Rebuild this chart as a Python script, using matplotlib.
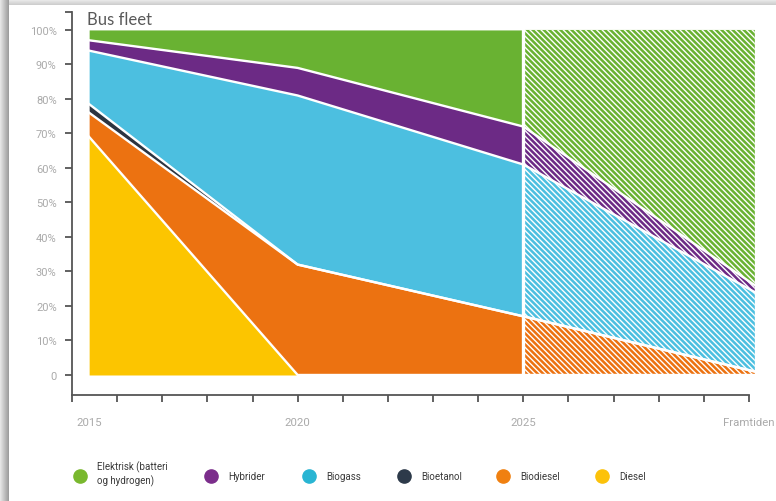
import numpy as np
import matplotlib.pyplot as plt
from matplotlib.lines import Line2D

# periods on the x axis and stacked shares (percent), bottom -> top
periods = ['2015', '2020', '2025', 'Framtiden']
series = ['Diesel', 'Biodiesel', 'Bioetanol', 'Biogass', 'Hybrider', 'Elektrisk']
diesel = [69, 0, 0, 0]
biodiesel = [7, 32, 17, 1]
bioetanol = [2.5, 0, 0, 0]
biogass = [15.5, 49, 44, 23]
hybrider = [3, 8, 11, 2]
elektrisk = [3, 11, 28, 74]

legend_labels = ['Elektrisk (batteri\nog hydrogen)', 'Hybrider', 'Biogass',
                 'Bioetanol', 'Biodiesel', 'Diesel']
colors = {'Elektrisk': '#69b232', 'Hybrider': '#6c2a85', 'Biogass': '#4cbfe0',
          'Bioetanol': '#2c3440', 'Biodiesel': '#ec7211', 'Diesel': '#fcc500'}
legend_colors = ['#79b82e', '#7b2d8b', '#29b5d3', '#2d3a4a', '#f08010', '#fcc20a']

xpos = np.array([0.38, 5, 10, 15.13])
plt.rcParams['hatch.linewidth'] = 1.0

fig = plt.figure(figsize=(7.76, 5.02), dpi=100)

# screenshot shadow on the left and top edge
H, W = 502, 776
img = np.ones((H, W, 3))
for c in range(9):
    img[:, c, :] = 0.9 - 0.28 * c / 8
for r in range(6):
    img[r, 9:, :] = np.minimum(img[r, 9:, :], 0.93 - 0.12 * r / 5)
bg = fig.add_axes([0, 0, 1, 1], zorder=-10)
bg.imshow(img, aspect='auto', extent=[0, 1, 0, 1])
bg.axis('off')

ax = fig.add_axes([72 / 776, 106 / 502, 686 / 776, 383 / 502])
ax.set_facecolor('none')

data = np.array([diesel, biodiesel, bioetanol, biogass, hybrider, elektrisk], dtype=float)
tops = np.cumsum(data, axis=0)
bottoms = tops - data

solid = slice(0, 3)
future = slice(2, 4)
for i, name in enumerate(series):
    ax.fill_between(xpos[solid], bottoms[i, solid], tops[i, solid],
                    color=colors[name], lw=0, zorder=2)
    ax.fill_between(xpos[future], bottoms[i, future], tops[i, future],
                    facecolor=colors[name], edgecolor='white', hatch='\\' * 6,
                    lw=0, zorder=2)

# white separators between bands
for i in range(len(series) - 1):
    ax.plot(xpos, tops[i], color='white', lw=1.7, zorder=3,
            solid_joinstyle='miter')
ax.plot([xpos[2], xpos[2]], [0, 100], color='white', lw=2.4, zorder=4)

ax.set_xlim(0, 15.2)
ax.set_ylim(-5.8, 105.2)
ax.spines['top'].set_visible(False)
ax.spines['right'].set_visible(False)
for s in ('left', 'bottom'):
    ax.spines[s].set_color('#555555')
    ax.spines[s].set_linewidth(1.3)
ax.spines['bottom'].set_bounds(0, 15)

ax.set_yticks(np.arange(0, 101, 10))
ax.set_yticklabels(['0'] + [f'{v}%' for v in range(10, 101, 10)])
ax.set_yticks([105.2], minor=True)
ax.set_xticks(np.arange(0, 16))
ax.set_xticklabels([''] * 16)
ax.tick_params(axis='both', which='both', direction='out', length=5, width=1.3,
               color='#555555', labelcolor='#aaaaaa', labelsize=8)
ax.tick_params(axis='y', pad=6)
for lab in ax.get_yticklabels():
    lab.set_family(['Roboto', 'DejaVu Sans'])

for xp, lab in zip(xpos, periods):
    if lab == 'Framtiden':
        xp = 15
    ax.text(xp, -13.5, lab, ha='center', va='center', fontsize=8.2,
            color='#aaaaaa', family=['Roboto', 'DejaVu Sans'], clip_on=False)

fig.text(87 / 776, 1 - 20 / 502, 'Bus fleet', fontsize=12, color='#595959',
         family=['Lato', 'DejaVu Sans'], va='center', ha='left')

# legend
leg_x = [80, 211, 309, 404, 503, 602]
leg_y = 1 - 477 / 502
for lx, lab, col in zip(leg_x, legend_labels, legend_colors):
    fig.add_artist(Line2D([lx / 776], [leg_y], marker='o', markersize=9.5,
                          color=col, linestyle='none', transform=fig.transFigure))
    fig.text((lx + 17) / 776, leg_y + (3 / 502 if '\n' in lab else 0),
             lab, fontsize=7, color='#3a3a3a', va='center', ha='left',
             linespacing=1.3,
             family=['Liberation Sans Narrow', 'Roboto', 'DejaVu Sans'])

fig.savefig('out.png', dpi=100)
